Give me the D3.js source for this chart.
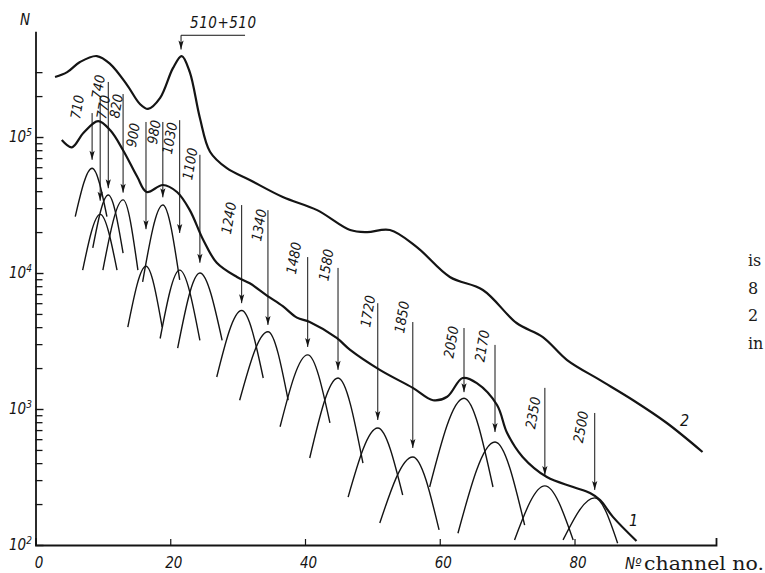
<!DOCTYPE html>
<html>
<head>
<meta charset="utf-8">
<script src="https://cdn.jsdelivr.net/npm/d3@7"></script>
<style>
  html, body { margin: 0; padding: 0; background: #fff; overflow: hidden; }
  svg { display: block; }
  .lbl { font-family: 'DejaVu Sans Condensed', 'DejaVu Sans', sans-serif; font-style: italic; font-stretch: condensed; fill: #141414; }
  .book { font-family: 'DejaVu Serif', 'Liberation Serif', serif; fill: #1a1a1a; }
</style>
</head>
<body>
<svg id="chart"></svg>
<script>
// spectrum 1 (lower) and 2 (upper): channel no. and counts N
const curve1Channel = [3.9, 5.4, 7.1, 9.3, 11.1, 13.0, 15.1, 16.5, 18.9, 21.0, 22.9, 24.9, 26.9, 29.9, 31.8,
  34.4, 36.7, 38.8, 40.7, 44.7, 46.7, 51.1, 56.0, 59.0, 61.1, 63.4, 65.5, 68.5, 70.0, 72.3, 75.9, 79.8,
  82.3, 83.8, 85.7, 89.2];
const curve1Counts = [95000, 84000, 107000, 131000, 112000, 80000, 51000, 39400, 44400, 39400, 29000, 17500,
  11900, 9350, 8400, 6800, 5700, 4700, 4360, 3330, 2720, 1940, 1430, 1160, 1230, 1690, 1550, 1070, 666, 444,
  316, 267, 241, 214, 161, 107];

const curve2Channel = [2.9, 4.7, 6.6, 9.1, 11.1, 13.6, 15.5, 16.7, 18.5, 20.4, 21.7, 22.9, 24.4, 25.9, 28.4,
  31.8, 36.7, 41.8, 46.7, 49.2, 52.6, 56.6, 61.5, 66.4, 71.4, 75.3, 78.9, 83.8, 88.7, 93.7, 99.0];
const curve2Counts = [276000, 300000, 356000, 394000, 344000, 241000, 175000, 161000, 194000, 321000, 394000,
  300000, 138000, 78000, 59000, 48300, 36200, 29000, 20700, 20000, 20700, 15500, 9350, 7500, 4290, 3380,
  2290, 1630, 1160, 789, 483];

// gamma lines (keV) and the peak drawn under each: apex, two feet, arrow start / tip
const lineEnergy = ['710', '740', '770', '820', '900', '980', '1030', '1100', '1240', '1340', '1480', '1580',
  '1720', '1850', '2050', '2170', '2350', '2500'];
const peakChannel = [8.4, 9.6, 10.8, 13.0, 16.4, 18.9, 21.4, 24.4, 30.6, 34.5, 40.4, 44.9, 50.8, 56.0, 63.6,
  68.2, 75.6, 83.0];
const peakCounts = [59000, 27000, 37500, 34500, 11200, 31600, 10500, 10000, 5300, 3700, 2500, 1690, 725, 444,
  1200, 572, 272, 222];
const footLeftChannel = [5.9, 7.0, 8.5, 10.0, 13.7, 15.9, 18.5, 21.1, 26.9, 30.3, 36.3, 40.7, 46.4, 51.1, 58.5,
  62.7, 71.1, 78.3];
const footLeftCounts = [26000, 10500, 15300, 10500, 4000, 8600, 3300, 2800, 1720, 1160, 740, 436, 225, 145, 267,
  122, 109, 109];
const footRightChannel = [10.6, 12.1, 13.0, 15.2, 18.8, 21.4, 24.4, 27.7, 33.8, 37.5, 43.7, 48.6, 54.5, 59.9,
  67.9, 72.6, 79.8, 86.4];
const footRightCounts = [26000, 10500, 14000, 10500, 4000, 8900, 3200, 3200, 1690, 1160, 790, 400, 233, 129, 267,
  140, 109, 103];
const arrowFromCounts = [150000, 194000, 254000, 207000, 129000, 129000, 133000, 74000, 31600, 29000, 13100,
  10900, 6000, 4360, 3940, 2960, 1430, 935];
const arrowToCounts = [68000, 34000, 42000, 39000, 21000, 36000, 19700, 11900, 6000, 4150, 2860, 1940, 830, 517,
  1330, 677, 327, 254];

// annihilation peak marker on spectrum 2
const annihLabel = '510+510';
const annihChannel = [21.6, 31.1];
const annihCounts = [560000, 440000];

const xTicks = [0, 20, 40, 60, 80];
const yDecades = [1e2, 1e3, 1e4, 1e5];
const yDecadeExp = ['2', '3', '4', '5'];
const yMinor = [200, 300, 400, 500, 600, 700, 800, 900, 2000, 3000, 4000, 5000, 6000, 7000, 8000, 9000,
  20000, 30000, 40000, 50000, 60000, 70000, 80000, 90000, 200000, 300000];

// label placement next to its arrow (px)
const labelNudge = {
  '710': [-15, -6], '740': [-2, -11], '770': [-5, 25], '820': [-7, 12], '900': [-13, 13], '980': [-9, 10],
  '1030': [-10, 18], '1100': [-10, 9], '1240': [-13, 13], '1340': [-9, 15], '1480': [-14, 1],
  '1580': [-12, -3], '1720': [-10, 8], '1850': [-11, -5], '2050': [-13, 14], '2170': [-13, 1],
  '2350': [-12, 25], '2500': [-14, 14]
};

const width = 765, height = 573;
const ink = '#141414';

const svg = d3.select('#chart').attr('width', width).attr('height', height);

const x = d3.scaleLinear().domain([0, 101]).range([35.5, 716]);
const y = d3.scaleLog().domain([100, 6e5]).range([545, 31.2]);

svg.append('defs').append('marker')
  .attr('id', 'head')
  .attr('viewBox', '-10 -5 10 10')
  .attr('refX', 0).attr('refY', 0)
  .attr('markerUnits', 'userSpaceOnUse')
  .attr('markerWidth', 10).attr('markerHeight', 10)
  .attr('orient', 'auto')
  .append('path')
  .attr('d', 'M-9,-2.6L0,0L-9,2.6L-7,0Z')
  .attr('fill', ink);

// axes
const xAxis = svg.append('g')
  .attr('transform', 'translate(0,545)')
  .call(d3.axisBottom(x).tickValues(xTicks).tickSize(-6).tickSizeOuter(-7).tickPadding(12)
    .tickFormat(d3.format('d')));
xAxis.select('.domain').attr('stroke', ink).attr('stroke-width', 1.8);
xAxis.selectAll('.tick line').attr('stroke', ink).attr('stroke-width', 1.2);
xAxis.selectAll('.tick text').attr('class', 'lbl').attr('font-size', 15).attr('dx', 3);

const yMinorAxis = svg.append('g')
  .attr('transform', 'translate(35.5,0)')
  .call(d3.axisLeft(y).tickValues(yMinor).tickSize(-7).tickSizeOuter(0).tickFormat(''));
yMinorAxis.select('.domain').attr('stroke', ink).attr('stroke-width', 1.8);
yMinorAxis.selectAll('.tick line').attr('stroke', ink).attr('stroke-width', 1.3);

const yMajorAxis = svg.append('g')
  .attr('transform', 'translate(35.5,0)')
  .call(d3.axisLeft(y).tickValues(yDecades).tickSize(-8).tickSizeOuter(0).tickFormat(''));
yMajorAxis.select('.domain').remove();
yMajorAxis.selectAll('.tick line').attr('stroke', ink).attr('stroke-width', 1.4);

const decLabel = svg.append('g').selectAll('text')
  .data(yDecades)
  .join('text')
  .attr('class', 'lbl')
  .attr('x', 9)
  .attr('y', d => y(d) + 5)
  .attr('font-size', 15);
decLabel.append('tspan').text('10');
decLabel.append('tspan').attr('dy', -6).attr('font-size', 10).text((d, i) => yDecadeExp[i]);

svg.append('text').attr('class', 'lbl').attr('x', 20).attr('y', 25).attr('font-size', 15).text('N');
svg.append('text').attr('class', 'lbl').attr('x', 625).attr('y', 569).attr('font-size', 15).text('Nº');
svg.append('text').attr('class', 'book').attr('x', 644).attr('y', 570).attr('font-size', 19)
  .attr('textLength', 120).attr('lengthAdjust', 'spacingAndGlyphs').text('channel no.');

// text of the book page at the right edge
svg.append('g').selectAll('text')
  .data(['is', '8', '2', 'in'])
  .join('text')
  .attr('class', 'book')
  .attr('x', 748)
  .attr('y', (d, i) => 266 + i * 27.5)
  .attr('font-size', 16)
  .text(d => d);

// fitted peaks
const peakLine = d3.line().x(d => x(d[0])).y(d => y(d[1])).curve(d3.curveMonotoneX);
svg.append('g').selectAll('path')
  .data(lineEnergy.map((e, i) => [
    [footLeftChannel[i], footLeftCounts[i]],
    [peakChannel[i], peakCounts[i]],
    [footRightChannel[i], footRightCounts[i]]
  ]))
  .join('path')
  .attr('d', peakLine)
  .attr('fill', 'none')
  .attr('stroke', ink)
  .attr('stroke-width', 1.4);

// measured spectra
const specLine = d3.line().x(d => x(d[0])).y(d => y(d[1])).curve(d3.curveCatmullRom.alpha(0.5));
svg.append('path')
  .datum(d3.zip(curve1Channel, curve1Counts))
  .attr('d', specLine)
  .attr('fill', 'none').attr('stroke', ink).attr('stroke-width', 2.2);
svg.append('path')
  .datum(d3.zip(curve2Channel, curve2Counts))
  .attr('d', specLine)
  .attr('fill', 'none').attr('stroke', ink).attr('stroke-width', 2.2);

svg.append('text').attr('class', 'lbl').attr('x', 629).attr('y', 526).attr('font-size', 16).text('1');
svg.append('text').attr('class', 'lbl').attr('x', 680).attr('y', 426).attr('font-size', 16).text('2');

// arrows and energy labels
const arrows = svg.append('g');
lineEnergy.forEach((e, i) => {
  const ax = x(peakChannel[i]);
  const top = y(arrowFromCounts[i]);
  arrows.append('line')
    .attr('x1', ax).attr('x2', ax)
    .attr('y1', top).attr('y2', y(arrowToCounts[i]))
    .attr('stroke', ink).attr('stroke-width', 1)
    .attr('marker-end', 'url(#head)');
  const [dx, dy] = labelNudge[e];
  arrows.append('text')
    .attr('class', 'lbl')
    .attr('font-size', 14)
    .attr('text-anchor', 'middle')
    .attr('dominant-baseline', 'central')
    .attr('transform', `translate(${ax + dx},${top + dy}) rotate(-80)`)
    .text(e);
});

// 510 + 510 marker
const ay0 = y(annihCounts[0]);
svg.append('line')
  .attr('x1', x(annihChannel[0])).attr('x2', x(annihChannel[1]))
  .attr('y1', ay0).attr('y2', ay0)
  .attr('stroke', ink).attr('stroke-width', 1);
svg.append('line')
  .attr('x1', x(annihChannel[0])).attr('x2', x(annihChannel[0]))
  .attr('y1', ay0).attr('y2', y(annihCounts[1]))
  .attr('stroke', ink).attr('stroke-width', 1)
  .attr('marker-end', 'url(#head)');
svg.append('text')
  .attr('class', 'lbl')
  .attr('x', x(annihChannel[0]) + 9)
  .attr('y', ay0 - 7)
  .attr('font-size', 15)
  .attr('textLength', 66)
  .attr('lengthAdjust', 'spacing')
  .text(annihLabel);
</script>
</body>
</html>
